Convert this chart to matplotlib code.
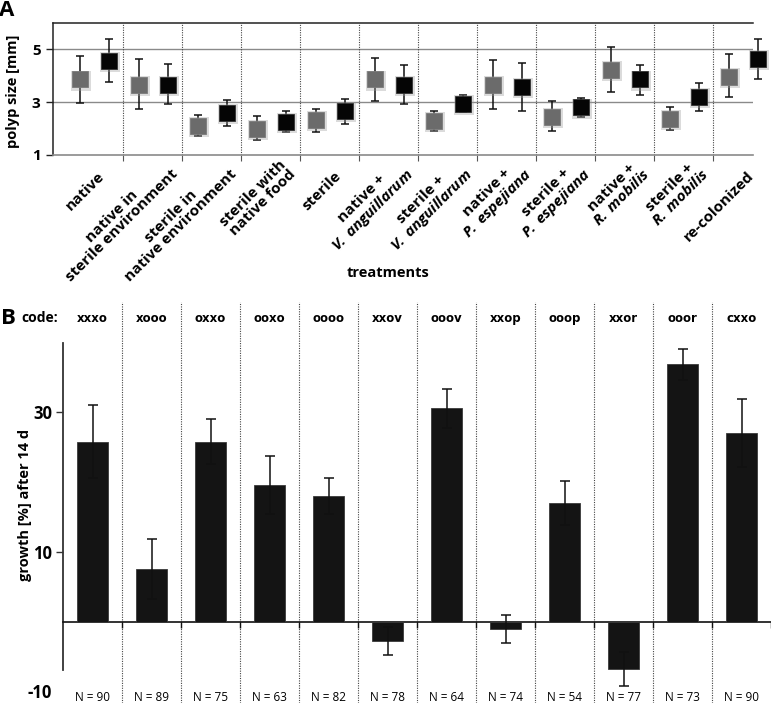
import matplotlib
matplotlib.use("Agg")
import matplotlib.pyplot as plt
import matplotlib.transforms as mtransforms
import numpy as np

plt.rcParams['font.family'] = ['Open Sans', 'DejaVu Sans']
plt.rcParams['mathtext.fontset'] = 'custom'
plt.rcParams['mathtext.bfit'] = 'Open Sans:italic:bold'
plt.rcParams['mathtext.it'] = 'Open Sans:italic:bold'

# ---------------- data ----------------
treatments = ["native",
              "native in\nsterile environment",
              "sterile in\nnative environment",
              "sterile with\nnative food",
              "sterile",
              "native +\n$\\mathbfit{V.\\:anguillarum}$",
              "sterile +\n$\\mathbfit{V.\\:anguillarum}$",
              "native +\n$\\mathbfit{P.\\:espejiana}$",
              "sterile +\n$\\mathbfit{P.\\:espejiana}$",
              "native +\n$\\mathbfit{R.\\:mobilis}$",
              "sterile +\n$\\mathbfit{R.\\:mobilis}$",
              "re-colonized"]

gray_mean = [3.86, 3.64, 2.09, 1.99, 2.34, 3.86, 2.28, 3.66, 2.45, 4.21, 2.36, 3.96]
gray_hi   = [4.76, 4.63, 2.50, 2.49, 2.75, 4.69, 2.68, 4.58, 3.05, 5.08, 2.81, 4.81]
gray_lo   = [2.97, 2.73, 1.73, 1.57, 1.89, 3.04, 1.90, 2.76, 1.92, 3.37, 1.95, 3.19]

black_mean = [4.57, 3.67, 2.58, 2.24, 2.68, 3.67, 2.95, 3.57, 2.80, 3.86, 3.21, 4.64]
black_hi   = [5.38, 4.45, 3.09, 2.66, 3.14, 4.41, 3.26, 4.50, 3.16, 4.41, 3.74, 5.38]
black_lo   = [3.77, 2.93, 2.09, 1.88, 2.19, 2.95, 2.61, 2.68, 2.44, 3.29, 2.68, 3.89]

codes = ["xxxo", "xooo", "oxxo", "ooxo", "oooo", "xxov",
         "ooov", "xxop", "ooop", "xxor", "ooor", "cxxo"]
growth     = [25.8, 7.6, 25.8, 19.6, 18.05, -2.75, 30.6, -1.1, 17.0, -6.8, 36.9, 27.0]
growth_err = [5.2, 4.3, 3.25, 4.2, 2.6, 2.0, 2.8, 2.0, 3.2, 2.45, 2.25, 4.9]
n_values   = [90, 89, 75, 63, 82, 78, 64, 74, 54, 77, 73, 90]

W, H = 771, 703
fig = plt.figure(figsize=(W / 100, H / 100), dpi=100)

# ---------------- panel A ----------------
axA = fig.add_axes([53 / W, 1 - 155 / H, 700 / W, 132 / H])
ng = len(treatments)
idx = np.arange(ng)
gm = np.array(gray_mean); bm = np.array(black_mean)
g_err = [gm - np.array(gray_lo), np.array(gray_hi) - gm]
b_err = [bm - np.array(black_lo), np.array(black_hi) - bm]

for x, m, e in ((idx + 0.27, gm, g_err), (idx + 0.77, bm, b_err)):
    eb = axA.errorbar(x, m, yerr=e, fmt='none', ecolor='#111111',
                      elinewidth=1.1, capsize=3, capthick=1.1, zorder=3)
    for art in list(eb.lines[1]) + list(eb.lines[2]):
        art.set_clip_on(False)
# soft halo behind markers (mimics the blurred shadow)
for x, m in ((idx + 0.27, gm), (idx + 0.77, bm)):
    axA.plot(x + 0.012, m - 0.04, 's', color='#9a9a9a', alpha=0.35,
             markersize=14, markeredgewidth=0, zorder=3.5, clip_on=False)
axA.plot(idx + 0.27, gm, 's', color='#6b6b6b', markersize=12,
         markeredgecolor='#7a7a7a', markeredgewidth=0.6, zorder=4, clip_on=False)
axA.plot(idx + 0.77, bm, 's', color='#050505', markersize=12,
         markeredgecolor='#333333', markeredgewidth=0.6, zorder=4, clip_on=False)

axA.set_xlim(-0.186, 11.68)
axA.set_ylim(1, 6)
for y in (3, 5):
    axA.axhline(y, color='#8a8a8a', lw=1.0, zorder=1)
for k in range(1, ng):
    axA.axvline(k, color='#444444', lw=0.8, ls=(0, (1, 1.2)), zorder=1)

axA.spines['right'].set_visible(False)
axA.spines['top'].set_color('#222222')
axA.spines['top'].set_linewidth(1.1)
axA.spines['left'].set_color('#222222')
axA.spines['left'].set_linewidth(1.1)
axA.spines['bottom'].set_color('#8a8a8a')
axA.spines['bottom'].set_linewidth(1.2)

axA.set_yticks([1, 3, 5])
axA.set_yticklabels(['1', '3', '5'], fontsize=11, fontweight='bold')
axA.tick_params(axis='y', length=5, width=1.0, color='#222222', pad=4)
axA.set_xticks(np.arange(1, ng))
axA.set_xticklabels([])
axA.tick_params(axis='x', which='major', length=4, width=0.8, color='#555555')

# rotated category labels (anchored at right-centre of the text block)
xt = axA.get_xaxis_transform()
for i, lab in enumerate(treatments):
    if "\n" in lab:
        dx, dy = 18, -12
    else:
        dx, dy = 9, -19
    off = mtransforms.ScaledTranslation(dx / 100, dy / 100, fig.dpi_scale_trans)
    axA.text(i + 0.5, 0, lab, transform=xt + off, rotation=45, ha='right',
             va='center', rotation_mode='anchor', multialignment='center',
             fontsize=11, fontweight='bold', linespacing=0.95, clip_on=False)

fig.text(13 / W, 1 - 91 / H, "polyp size [mm]", rotation=90, ha='center',
         va='center', fontsize=10.5, fontweight='bold')
fig.text(388 / W, 1 - 273 / H, "treatments", ha='center', va='center',
         fontsize=10.5, fontweight='bold')
fig.text(7 / W, 1 - 10 / H, "A", ha='center', va='center', fontsize=16,
         fontweight='bold')

# ---------------- panel B ----------------
axB = fig.add_axes([63 / W, 0, 708 / W, (H - 302) / H])
axB.bar(idx + 0.5, growth, width=0.53, color='#141414', edgecolor='#3a3a3a',
        linewidth=0.6, zorder=3)
axB.errorbar(idx + 0.5, growth, yerr=growth_err, fmt='none', ecolor='#111111',
             elinewidth=1.1, capsize=3.5, capthick=1.1, zorder=4)
axB.set_xlim(0, 12)
axB.set_ylim(-11.69, 45.84)
for k in range(1, ng):
    axB.axvline(k, color='#444444', lw=0.8, ls=(0, (1, 1.2)), zorder=1)

for s in ('top', 'right'):
    axB.spines[s].set_visible(False)
axB.spines['left'].set_bounds(-7, 40)
axB.spines['left'].set_color('#333333')
axB.spines['left'].set_linewidth(1.3)
axB.spines['bottom'].set_position(('data', 0))
axB.spines['bottom'].set_bounds(0, 12)
axB.spines['bottom'].set_color('#111111')
axB.spines['bottom'].set_linewidth(1.2)
axB.set_xticks(np.arange(1, ng + 1))
axB.set_xticklabels([])
axB.tick_params(axis='x', length=4, width=1.0, color='#111111', direction='out')

axB.set_yticks([-10, 10, 30])
axB.set_yticklabels(['-10', '10', '30'], fontsize=12, fontweight='bold')
axB.tick_params(axis='y', length=5, width=1.0, color='#333333', pad=3)
axB.yaxis.get_major_ticks()[0].tick1line.set_visible(False)

for i, c in enumerate(codes):
    axB.text(i + 0.5, 0.96, c, transform=axB.get_xaxis_transform(),
             ha='center', va='center', fontsize=8.5, fontweight='bold',
             family='DejaVu Sans')
for i, n in enumerate(n_values):
    axB.text(i + 0.5, 0.013, f"N = {n}", transform=axB.get_xaxis_transform(),
             ha='center', va='center', fontsize=8.5)

fig.text(40 / W, 1 - 318 / H, "code:", ha='center', va='center',
         fontsize=10, fontweight='bold')
fig.text(25 / W, 1 - 505 / H, "growth [%] after 14 d", rotation=90,
         ha='center', va='center', fontsize=10.5, fontweight='bold')
fig.text(8 / W, 1 - 318 / H, "B", ha='center', va='center', fontsize=16,
         fontweight='bold')

fig.savefig("out.png", dpi=100)
